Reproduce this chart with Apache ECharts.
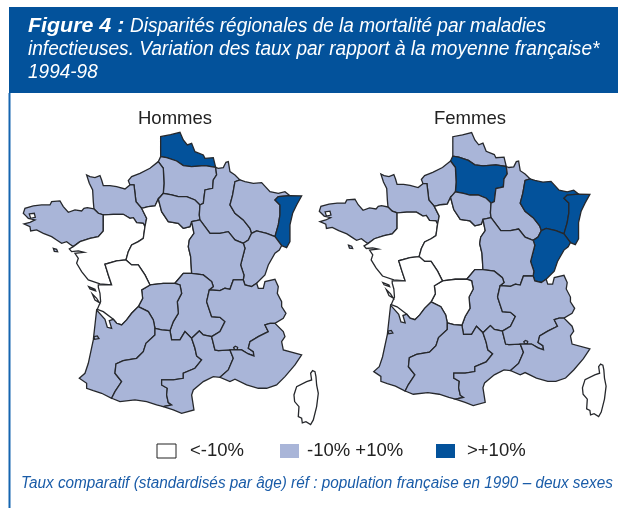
<!DOCTYPE html>
<html><head><meta charset="utf-8">
<style>html,body{margin:0;padding:0;background:#fff}#c{width:618px;height:508px}</style>
<script src="https://cdn.jsdelivr.net/npm/echarts@6/dist/echarts.min.js"></script>
</head><body><div id="c"></div>
<script>
// ---- chart values ----
const regionNames = ['Nord','Picardie','Haute-Normandie','Basse-Normandie','Bretagne','Pays de la Loire','Centre','Ile-de-France','Champagne-Ardenne','Lorraine','Alsace','Franche-Comte','Bourgogne','Auvergne','Limousin','Poitou-Charentes','Aquitaine','Midi-Pyrenees','Languedoc-Roussillon','Rhone-Alpes','PACA','Corse'];
// class: 0 = <-10%, 1 = -10% +10%, 2 = >+10%
const hommesClass = [2,1,1,1,1,0,0,1,1,1,2,1,1,1,1,0,1,1,1,1,1,0];
const femmesClass = [1,2,1,1,1,0,0,1,1,2,2,2,1,1,0,0,1,1,1,1,1,0];
const legendLabels = ['<-10%','-10% +10%','>+10%'];
const classColors = ['#ffffff','#A9B5D8','#03529B'];
const panelTitles = ['Hommes','Femmes'];

// ---- map geometry (shared borders) ----
const arcs = {
 nordCoast:[[482,140],[482,80],[512,74],[540,67],[550,90],[562,105],[575,100],[585,125],[610,135],[615,145],[640,143],[647,172]],
 nordPic:[[647,172],[615,167],[575,170],[550,167],[530,153],[500,143],[482,140]],
 picCoast:[[482,140],[475,155]],
 picHN:[[475,155],[490,175],[492,220],[490,250]],
 picIDF:[[490,250],[515,255],[535,260],[560,260],[585,270],[600,285]],
 picCh:[[600,285],[610,280],[615,240],[638,235],[640,210],[650,195],[647,172]],
 hnCoast:[[475,155],[450,175],[420,190],[395,200],[385,212],[390,225],[402,225]],
 hnBN:[[402,225],[408,275],[425,295]],
 hnCentre:[[425,295],[445,290],[465,288],[475,267]],
 hnIDF:[[475,267],[483,258],[490,250]],
 bnCoast:[[402,225],[390,225],[375,237],[350,230],[330,227],[310,227],[305,210],[300,197],[285,203],[270,200],[260,195],[268,220],[278,240],[280,275],[282,297]],
 bnBr:[[282,297],[295,310],[310,315]],
 bnPL:[[310,315],[340,313],[370,313],[390,325],[400,323],[410,338],[430,340],[435,350]],
 bnCentre:[[435,350],[440,325],[435,315],[425,295]],
 brCoast:[[282,297],[262,293],[252,295],[245,303],[225,300],[205,307],[190,290],[180,273],[155,275],[150,285],[125,285],[100,288],[75,295],[70,310],[77,317],[85,325],[105,330],[90,337],[72,342],[90,350],[92,363],[110,360],[130,370],[155,380],[170,390],[185,400],[200,395],[210,403],[220,410]],
 brPL:[[220,410],[240,395],[270,385],[295,380],[310,363],[310,315]],
 plCentre:[[435,350],[430,385],[415,395],[395,405],[385,425],[378,450]],
 plPo:[[378,450],[350,453],[315,463],[325,495],[335,525]],
 plCoast:[[335,525],[300,522],[265,510],[245,485],[230,460],[235,445],[225,430],[252,427],[235,423],[215,425],[208,417],[220,410]],
 centreIDF:[[475,267],[485,305],[505,335],[535,340],[550,355],[570,350],[575,335]],
 idfBg:[[575,335],[600,330]],
 idfCh:[[600,330],[598,315],[600,285]],
 centreBg:[[575,335],[582,370],[568,390],[565,410],[572,440],[575,490]],
 centreAuv:[[575,490],[550,490],[525,520]],
 centreLim:[[525,520],[490,520],[450,525]],
 centrePo:[[450,525],[435,495],[415,465],[395,465],[378,450]],
 poLim:[[450,525],[425,540],[428,565],[415,590]],
 poAq:[[415,590],[395,610],[380,630],[365,645],[350,640],[340,628]],
 poCoast:[[340,628],[310,605],[292,598],[302,575],[300,550],[295,532],[295,525],[335,525]],
 limAq:[[415,590],[445,605],[460,630],[465,655]],
 limMP:[[465,655],[485,660],[510,662]],
 limAuv:[[510,662],[520,635],[535,610],[532,575],[545,550],[540,525],[525,520]],
 auvBg:[[575,490],[610,495],[635,515],[640,530],[628,540]],
 auvRA:[[628,540],[620,575],[635,620],[660,622],[675,635],[660,665],[635,680]],
 auvLR:[[635,680],[610,675],[598,663],[575,685]],
 auvMP:[[575,685],[555,665],[540,690],[515,690],[510,662]],
 bgCh:[[600,330],[615,350],[630,370],[660,370],[685,365],[705,390],[730,400]],
 bgFC:[[730,400],[735,415],[722,465],[732,495],[730,510]],
 bgRA:[[730,510],[700,510],[690,538],[675,535],[660,542],[628,540]],
 chCoast:[[647,172],[655,175],[670,173],[678,157],[685,155],[690,185],[705,195],[720,210]],
 chLo:[[720,210],[705,215],[698,255],[690,285],[705,310],[730,330],[750,355],[755,370]],
 chFC:[[755,370],[745,390],[730,400]],
 loN:[[720,210],[735,215],[760,220],[785,218],[810,245],[835,250],[855,245],[870,257]],
 loAl:[[870,257],[835,260],[825,270],[840,285],[840,315],[835,345],[825,380]],
 loFC:[[825,380],[800,370],[770,363],[755,370]],
 alOut:[[870,257],[905,258],[890,285],[878,310],[870,345],[870,395],[860,413],[845,407]],
 alFC:[[845,407],[825,380]],
 fcOut:[[845,407],[838,420],[825,430],[805,465],[795,495],[770,520]],
 fcRA:[[770,520],[755,530],[735,525],[730,510]],
 raOut:[[770,520],[775,535],[790,535],[795,515],[825,508],[835,530],[832,550],[845,575],[845,590],[858,610],[850,625],[825,640]],
 raPACA:[[825,640],[810,640],[795,645],[805,665],[775,680],[750,695],[745,715],[760,725],[762,738],[745,732],[725,720],[690,720]],
 raLR:[[690,720],[655,722],[645,720],[635,680]],
 pacaOut:[[825,640],[850,665],[855,680],[845,695],[850,720],[905,735],[885,765],[855,800],[830,825],[800,835],[775,835],[740,825],[705,808],[690,815],[660,802]],
 pacaLR:[[660,802],[685,780],[700,745],[690,720]],
 lrOut:[[660,802],[640,800],[610,815],[580,840],[575,855],[582,900],[545,910],[520,900],[490,890]],
 lrMP:[[490,890],[515,885],[505,878],[500,855],[502,835],[485,825],[485,810],[520,810],[550,805],[550,790],[585,775],[605,750],[590,738],[585,715],[575,685]],
 mpOut:[[490,890],[470,885],[440,875],[405,870],[360,875],[335,865]],
 mpAq:[[335,865],[345,845],[365,815],[345,790],[348,762],[370,752],[410,745],[430,725],[438,700],[465,675],[465,655]],
 aqOut:[[335,865],[305,850],[280,842],[260,835],[260,820],[238,805],[255,790],[265,760],[280,690],[290,600],[315,628],[322,652],[335,655],[328,632],[340,628]]
};
const rings = {
 'Nord':['nordCoast','nordPic'],
 'Picardie':['picCoast','picHN','picIDF','picCh','nordPic'],
 'Haute-Normandie':['hnCoast','hnBN','hnCentre','hnIDF','-picHN'],
 'Basse-Normandie':['bnCoast','bnBr','bnPL','bnCentre','-hnBN'],
 'Bretagne':['brCoast','brPL','-bnBr'],
 'Pays de la Loire':['bnPL','plCentre','plPo','plCoast','brPL'],
 'Centre':['hnCentre','centreIDF','centreBg','centreAuv','centreLim','centrePo','-plCentre','bnCentre'],
 'Ile-de-France':['-hnIDF','centreIDF','idfBg','idfCh','-picIDF'],
 'Champagne-Ardenne':['chCoast','chLo','chFC','-bgCh','idfCh','picCh'],
 'Lorraine':['loN','loAl','loFC','-chLo'],
 'Alsace':['alOut','alFC','-loAl'],
 'Franche-Comte':['-alFC','fcOut','fcRA','-bgFC','-chFC','-loFC'],
 'Bourgogne':['idfBg','bgCh','bgFC','bgRA','-auvBg','-centreBg'],
 'Auvergne':['auvBg','auvRA','auvLR','auvMP','limAuv','-centreAuv'],
 'Limousin':['-centreLim','-limAuv','-limMP','-limAq','-poLim'],
 'Poitou-Charentes':['poLim','poAq','poCoast','-plPo','-centrePo'],
 'Aquitaine':['limAq','-mpAq','aqOut','-poAq'],
 'Midi-Pyrenees':['limMP','-auvMP','-lrMP','mpOut','mpAq'],
 'Languedoc-Roussillon':['lrMP','-auvLR','-raLR','-pacaLR','lrOut'],
 'Rhone-Alpes':['-bgRA','-fcRA','raOut','raPACA','raLR','-auvRA'],
 'PACA':['-raPACA','pacaOut','pacaLR']
};
const extraParts = {
 'Bretagne':[[[160,415],[170,418],[173,425],[163,424]]],
 'Poitou-Charentes':[[[266,530],[285,538],[287,543],[270,537]],[[277,552],[290,565],[298,578],[285,570]]],
 'Corse':[[[938,782],[945,785],[948,800],[950,825],[955,850],[950,890],[940,930],[932,944],[918,935],[907,939],[905,925],[895,920],[897,890],[884,875],[882,855],[890,830],[920,815],[935,810],[932,790]]]
};
const holes = {
 'Rhone-Alpes':[[[701,713],[706,709],[713,712],[712,718],[704,719]]],
 'Aquitaine':[[[282,680],[292,678],[297,686],[284,688]]],
 'Bretagne':[[[88,312],[103,310],[106,322],[92,325]]]
};
function ringOf(names){
  const out=[];
  names.forEach(n=>{
    const rev=n[0]==='-'; const a=arcs[rev?n.slice(1):n]; const pts=rev?a.slice().reverse():a;
    pts.forEach(p=>{const l=out[out.length-1]; if(!l||l[0]!==p[0]||l[1]!==p[1]) out.push(p);});
  });
  out.push(out[0]);
  return out;
}
const features = regionNames.map(name=>{
  const polys=[];
  if(rings[name]) polys.push([ringOf(rings[name])].concat((holes[name]||[]).map(h=>h.concat([h[0]]))));
  (extraParts[name]||[]).forEach(p=>polys.push([p.concat([p[0]])]));
  return {type:'Feature',properties:{name},geometry:{type:'MultiPolygon',coordinates:polys}};
});
const geoJson={type:'FeatureCollection',features};
echarts.registerMap('frH',geoJson);
echarts.registerMap('frF',geoJson);

const chart = echarts.init(document.getElementById('c'),null,{renderer:'canvas'});
const identity={project:p=>p,unproject:p=>p};
function mapSeries(name,map,vals,box){
  return Object.assign({type:'map',name,map,projection:identity,roam:false,silent:true,
    label:{show:false},emphasis:{disabled:true},select:{disabled:true},
    itemStyle:{borderColor:'#26282c',borderWidth:1.3},
    data:regionNames.map((n,i)=>({name:n,value:vals[i]}))},box);
}
const swatchX=[157,280,436], textX=[190,307,467];
const txt=(o)=>({type:'text',z:10,silent:true,...o});
const itFont={fontFamily:'Liberation Sans',fontStyle:'italic',fontSize:20,fill:'#fff'};
chart.setOption({
  animation:false,
  backgroundColor:'#ffffff',
  title:[
    {text:panelTitles[0],left:170,top:104,textAlign:'center',textStyle:{fontFamily:'Liberation Sans',fontSize:18.5,fontWeight:'normal',color:'#222'}},
    {text:panelTitles[1],left:465,top:104,textAlign:'center',textStyle:{fontFamily:'Liberation Sans',fontSize:18.5,fontWeight:'normal',color:'#222'}}
  ],
  visualMap:{type:'piecewise',show:false,seriesIndex:[0,1],dimension:0,
    pieces:[{value:0,color:classColors[0]},{value:1,color:classColors[1]},{value:2,color:classColors[2]}]},
  series:[
    mapSeries('Hommes','frH',hommesClass,{left:23.3,top:132.3,width:295,height:292.3}),
    mapSeries('Femmes','frF',femmesClass,{left:319.3,top:132.5,width:286.8,height:284.1})
  ],
  graphic:[
    {type:'rect',silent:true,shape:{x:8.5,y:93,width:2,height:415},style:{fill:'#1565b0'}},
    {type:'rect',silent:true,shape:{x:9,y:7,width:609,height:86},style:{fill:'#03529B'}},
    txt({x:28,y:16,scaleX:1.07,style:{text:'Figure 4 :',fontFamily:'Liberation Sans',fontStyle:'italic',fontWeight:'bold',fontSize:20,fill:'#fff'}}),
    txt({x:130,y:16,scaleX:0.95,style:{text:'Disparités régionales de la mortalité par maladies',...itFont}}),
    txt({x:28,y:39,scaleX:0.953,style:{text:'infectieuses. Variation des taux par rapport à la moyenne française*',...itFont}}),
    txt({x:28,y:62,scaleX:0.95,style:{text:'1994-98',...itFont}}),
    ...legendLabels.flatMap((t,i)=>[
      {type:'rect',silent:true,shape:{x:swatchX[i],y:444,width:19,height:14},
        style:{fill:classColors[i],stroke:i===0?'#222':null,lineWidth:i===0?1:0}},
      txt({x:textX[i],y:441,style:{text:t,fontFamily:'Liberation Sans',fontSize:18.5,fill:'#222'}})
    ]),
    txt({x:21,y:476,scaleX:0.957,style:{text:'Taux comparatif (standardisés par âge) réf : population française en 1990 – deux sexes',
      fontFamily:'Liberation Sans',fontStyle:'italic',fontSize:16,fill:'#1a5ca8'}})
  ]
});
</script></body></html>
